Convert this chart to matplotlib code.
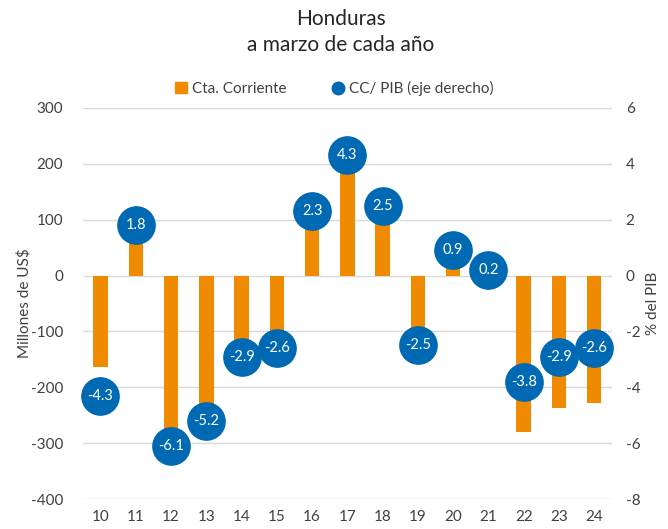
import matplotlib.pyplot as plt
from matplotlib.lines import Line2D
from matplotlib.patches import Patch

plt.rcParams['font.family'] = ['Lato', 'DejaVu Sans']
plt.rcParams['axes.unicode_minus'] = False

# Datos
anios = ['10', '11', '12', '13', '14', '15', '16', '17', '18', '19', '20', '21', '22', '23', '24']
cta_corriente = [-163, 80, -285, -250, -125, -115, 100, 240, 110, -115, 17, 3, -280, -238, -229]
cc_pib = [-4.3, 1.8, -6.1, -5.2, -2.9, -2.6, 2.3, 4.3, 2.5, -2.5, 0.9, 0.2, -3.8, -2.9, -2.6]

naranja = '#F08A00'
azul = '#0069B4'
gris = '#404040'

fig = plt.figure(figsize=(6.68, 5.29), dpi=100)
ax = fig.add_axes([0.124, 0.0567, 0.792, 0.7393])
ax2 = ax.twinx()

x = list(range(len(anios)))
ax.bar(x, cta_corriente, width=0.41, color=naranja, zorder=2)
ax.set_ylim(-400, 300)
ax.set_yticks(range(-400, 301, 100))
ax.set_xlim(-0.5, len(anios) - 0.5)
ax.set_xticks(x)
ax.set_xticklabels(anios)
ax.grid(axis='y', color='#D9D9D9', linewidth=1, zorder=0)
ax.set_axisbelow(True)

ax2.scatter(x, cc_pib, s=720, color=azul, zorder=3, clip_on=False)
for xi, v in zip(x, cc_pib):
    ax2.text(xi, v, f'{v:.1f}', ha='center', va='center', color='white', fontsize=10.5, zorder=4)
ax2.set_ylim(-8, 6)
ax2.set_yticks(range(-8, 7, 2))

for a in (ax, ax2):
    for s in a.spines.values():
        s.set_visible(False)
    a.tick_params(length=0, labelsize=11, colors=gris, pad=8)
ax.tick_params(axis='y', pad=14)
ax2.tick_params(axis='y', pad=10)

ax.set_ylabel('Millones de US$', fontsize=11, color=gris, labelpad=0)
ax2.set_ylabel('% del PIB', fontsize=11, color=gris, labelpad=4)

fig.text(0.51, 0.965, 'Honduras', ha='center', va='center', fontsize=15, color='#262626')
fig.text(0.51, 0.914, 'a marzo de cada año', ha='center', va='center', fontsize=15, color='#262626')

handles = [Patch(color=naranja), Line2D([], [], marker='o', color=azul, linestyle='none', markersize=9)]
fig.legend(handles, ['Cta. Corriente', 'CC/ PIB (eje derecho)'], loc='center', bbox_to_anchor=(0.5, 0.833),
           ncol=2, frameon=False, fontsize=11, handlelength=0.8, handletextpad=0.3, columnspacing=3,
           labelcolor=gris)

fig.savefig('out.png', dpi=100)
